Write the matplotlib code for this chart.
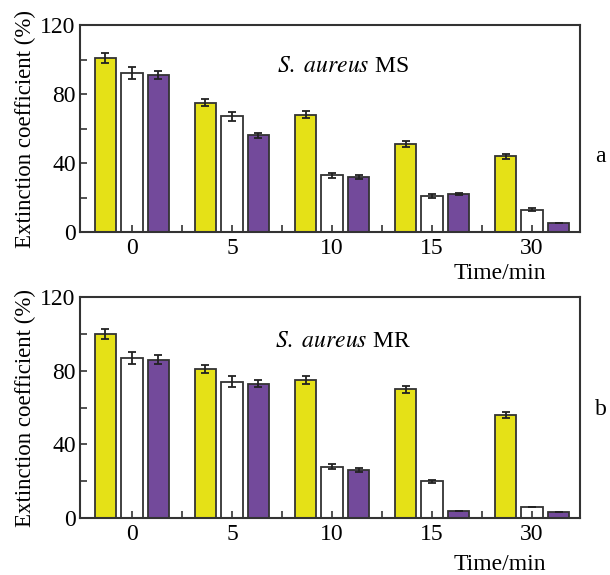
import numpy as np
import matplotlib
matplotlib.use("Agg")
import matplotlib.pyplot as plt
from matplotlib.ticker import MultipleLocator, FixedLocator

plt.rcParams['font.family'] = ['Liberation Serif', 'DejaVu Serif']
plt.rcParams['mathtext.fontset'] = 'stix'

#### DATA
times = ['0', '5', '10', '15', '30']

ms_yellow = [101, 75, 68, 51, 44]
ms_white = [92, 67, 33, 21, 13]
ms_purple = [91, 56, 32, 22, 5]
ms_yellow_err = [3, 2, 2, 1.5, 1.5]
ms_white_err = [3.5, 2.5, 1.5, 1, 1]
ms_purple_err = [2.5, 1.5, 1, 0.5, 0]

mr_yellow = [100, 81, 75, 70, 56]
mr_white = [87, 74, 28, 20, 6]
mr_purple = [86, 73, 26, 4, 3.5]
mr_yellow_err = [2.5, 2, 2, 2, 1.5]
mr_white_err = [3.5, 3, 1.5, 0.7, 0]
mr_purple_err = [2.5, 2, 1, 0, 0]

#### STYLE
yellow = '#e5e117'
purple = '#734a9b'
edge = '#333333'
fs = 17
barW = 0.215
offs = 0.265

fig = plt.figure(figsize=(6.1, 5.75), dpi=100)
ax1 = fig.add_axes([0.131, 0.5965, 0.82, 0.36])
ax2 = fig.add_axes([0.131, 0.099, 0.82, 0.384])


def drawPanel(ax, ys, ws, ps, yse, wse, pse, title):
    x = np.arange(len(times))
    ekw = dict(ecolor='#222222', elinewidth=1.3, capsize=3, capthick=1.3)
    ax.bar(x - offs, ys, barW, color=yellow, edgecolor=edge, linewidth=1.3,
           yerr=yse, error_kw=ekw)
    ax.bar(x, ws, barW, color='white', edgecolor=edge, linewidth=1.3,
           yerr=wse, error_kw=ekw)
    ax.bar(x + offs, ps, barW, color=purple, edgecolor=edge, linewidth=1.3,
           yerr=pse, error_kw=ekw)
    ax.set_xlim(-0.52, 4.48)
    ax.set_ylim(0, 120)
    ax.set_xticks(x)
    ax.set_xticklabels(times)
    ax.xaxis.set_minor_locator(FixedLocator([0.5, 1.5, 2.5, 3.5]))
    ax.yaxis.set_major_locator(MultipleLocator(40))
    ax.yaxis.set_minor_locator(MultipleLocator(20))
    ax.tick_params(which='both', direction='in', labelsize=fs, color=edge)
    ax.tick_params(which='major', length=5, width=1.2)
    ax.tick_params(which='minor', length=5, width=1.2)
    ax.tick_params(axis='x', pad=4)
    ax.tick_params(axis='y', pad=3)
    for s in ax.spines.values():
        s.set_linewidth(1.5)
        s.set_color(edge)
    ax.set_ylabel('Extinction coefficient (%)', fontsize=16.5, labelpad=3)
    ax.text(0.525, 0.80, r'$\it{S.\ aureus}$ ' + title, transform=ax.transAxes,
            ha='center', va='center', fontsize=fs)


drawPanel(ax1, ms_yellow, ms_white, ms_purple,
          ms_yellow_err, ms_white_err, ms_purple_err, 'MS')
drawPanel(ax2, mr_yellow, mr_white, mr_purple,
          mr_yellow_err, mr_white_err, mr_purple_err, 'MR')

fig.text(0.82, 0.524, 'Time/min', fontsize=fs, ha='center', va='center')
fig.text(0.82, 0.018, 'Time/min', fontsize=fs, ha='center', va='center')
fig.text(0.985, 0.727, 'a', fontsize=fs, ha='center', va='center')
fig.text(0.985, 0.288, 'b', fontsize=fs, ha='center', va='center')

plt.savefig('out.png', dpi=100)
